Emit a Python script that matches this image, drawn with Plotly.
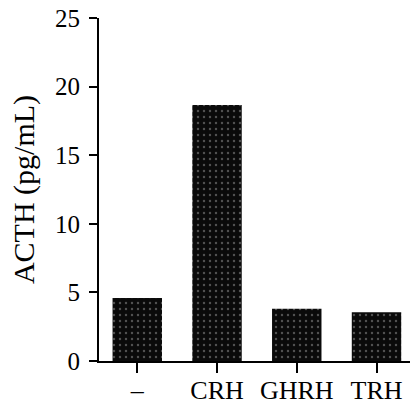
import plotly.graph_objects as go

categories = ["\u2013", "CRH", "GHRH", "TRH"]
acth = [4.6, 18.65, 3.8, 3.55]
y_ticks = [0, 5, 10, 15, 20, 25]

font_family = "Liberation Serif, DejaVu Serif, serif"

fig = go.Figure(
    go.Bar(
        x=categories,
        y=acth,
        width=0.62,
        marker=dict(
            color="#0a0a0a",
            line=dict(width=0),
            pattern=dict(shape=".", fgcolor="#9a9a9a", bgcolor="#0a0a0a", size=6, solidity=0.12),
        ),
    )
)

fig.update_layout(
    width=413,
    height=406,
    margin=dict(l=99, r=3, t=18, b=45),
    paper_bgcolor="white",
    plot_bgcolor="white",
    showlegend=False,
    font=dict(family=font_family, color="black", size=25),
)

fig.update_xaxes(
    type="category",
    range=[-0.48, 3.42],
    automargin=False,
    showline=True,
    linecolor="black",
    linewidth=2,
    ticks="outside",
    ticklen=10,
    tickwidth=2,
    tickcolor="black",
    ticklabelstandoff=-5,
    showgrid=False,
    zeroline=False,
    tickfont=dict(size=26, family=font_family),
)

fig.update_yaxes(
    range=[0, 25],
    automargin=False,
    tickvals=y_ticks,
    ticktext=[str(v) for v in y_ticks],
    showline=True,
    linecolor="black",
    linewidth=2,
    ticks="outside",
    ticklen=8,
    tickwidth=2,
    tickcolor="black",
    ticklabelstandoff=4,
    showgrid=False,
    zeroline=False,
    tickfont=dict(size=25, family=font_family),
    title=dict(text="ACTH (pg/mL)", font=dict(size=30, family=font_family), standoff=12),
)

fig.write_html("out.html")
